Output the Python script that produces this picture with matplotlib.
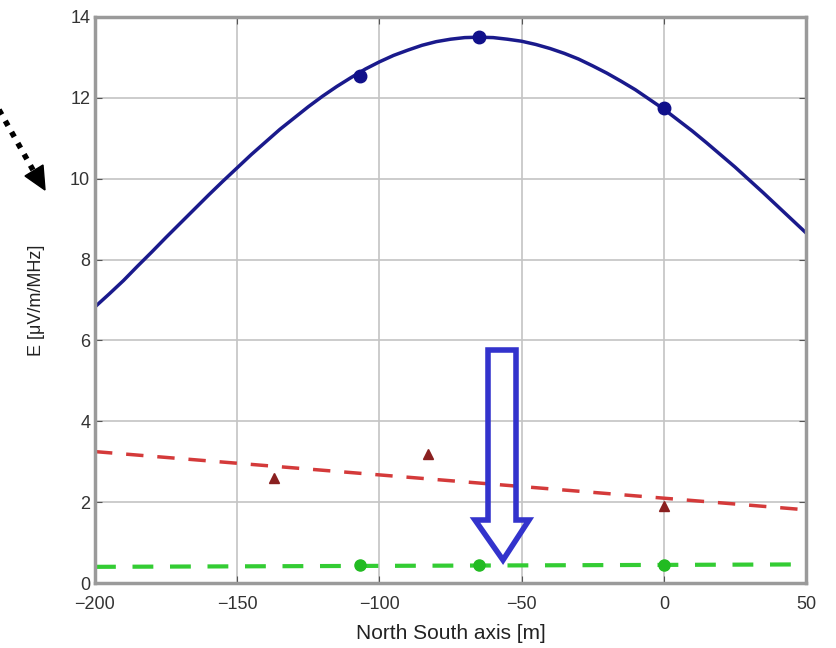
import matplotlib
matplotlib.use('Agg')
import matplotlib.pyplot as plt
from matplotlib.patches import Polygon
from matplotlib.lines import Line2D

plt.rcParams['font.family'] = ['Liberation Sans', 'DejaVu Sans']

# 总场强曲线 (沿南北轴)
x_curve = [-200, -195, -190, -185, -180, -175, -170, -165, -160, -155, -150, -145, -140, -135,
           -130, -125, -120, -115, -110, -105, -100, -95, -90, -85, -80, -75, -70, -65,
           -60, -55, -50, -45, -40, -35, -30, -25, -20, -15, -10, -5, 0, 5, 10, 15, 20,
           25, 30, 35, 40, 45, 50]
e_curve = [6.83, 7.15, 7.48, 7.84, 8.19, 8.55, 8.90, 9.25, 9.60, 9.94, 10.27, 10.60, 10.91, 11.22,
           11.50, 11.78, 12.04, 12.28, 12.50, 12.71, 12.89, 13.05, 13.18, 13.30, 13.39, 13.45, 13.49, 13.50,
           13.49, 13.45, 13.40, 13.32, 13.22, 13.10, 12.96, 12.79, 12.61, 12.41, 12.20, 11.96, 11.72, 11.45,
           11.18, 10.89, 10.59, 10.29, 9.97, 9.65, 9.32, 8.99, 8.66]
x_blue_pts = [-107, -65, 0]
e_blue_pts = [12.55, 13.5, 11.76]

# 红色: 拟合直线与测量点
x_red_line = [-200, 50]
e_red_line = [3.25, 1.81]
x_red_pts = [-137, -83, 0]
e_red_pts = [2.6, 3.2, 1.9]

# 绿色: 拟合直线与测量点
x_green_line = [-200, 50]
e_green_line = [0.40, 0.46]
x_green_pts = [-107, -65, 0]
e_green_pts = [0.45, 0.44, 0.45]

xticks = [-200, -150, -100, -50, 0, 50]
yticks = [0, 2, 4, 6, 8, 10, 12, 14]

fig = plt.figure(figsize=(8.37, 6.48), dpi=100)
ax = fig.add_axes([0.1135, 0.1003, 0.8495, 0.8735])

ax.plot(x_curve, e_curve, color='#1a1a8c', linewidth=2.5)
ax.plot(x_blue_pts, e_blue_pts, 'o', color='#10108a', markersize=9)

ax.plot(x_red_line, e_red_line, '--', color='#d43a3a', linewidth=2.5, dashes=(5, 4))
ax.plot(x_red_pts, e_red_pts, '^', color='#8a2020', markersize=7)

ax.plot(x_green_line, e_green_line, '--', color='#33cc33', linewidth=3, dashes=(5, 4))
ax.plot(x_green_pts, e_green_pts, 'o', color='#22bb22', markersize=8)

ax.set_xlim(-200, 50)
ax.set_ylim(0, 14)
ax.set_xticks(xticks)
ax.set_yticks(yticks)
ax.grid(True, color='#c4c4c4', linewidth=1.2)
ax.set_axisbelow(True)
ax.tick_params(direction='in', top=True, right=True, labelsize=13, colors='#555555',
               labelcolor='#333333', length=5)
ax.tick_params(axis='x', pad=9)
for s in ax.spines.values():
    s.set_color('#9a9a9a')
    s.set_linewidth(2.5)

ax.set_xlabel('North South axis [m]', fontsize=15, color='#222222', labelpad=8)
ax.set_ylabel('E [\u03bcV/m/MHz]', fontsize=13, color='#222222', labelpad=18)

H = 648
# 黑色点线箭头指向纵轴标题
fig.add_artist(Line2D([-2, 33], [H - 108, H - 170], transform=None, color='black',
                      linewidth=4, linestyle=(0, (1, 1.3))))
fig.patches.append(Polygon([(45, H - 190), (25, H - 176), (43, H - 165)], closed=True,
                           facecolor='black', edgecolor='black', transform=None, figure=fig))

# 蓝色空心箭头
arrow_px = [(488, 350), (516, 350), (516, 520), (529, 520), (503, 560),
            (475, 520), (488, 520)]
fig.patches.append(Polygon([(px, H - py) for px, py in arrow_px], closed=True,
                           fill=False, edgecolor='#3333cc', linewidth=4,
                           transform=None, figure=fig))

fig.savefig('out.png', dpi=100)
